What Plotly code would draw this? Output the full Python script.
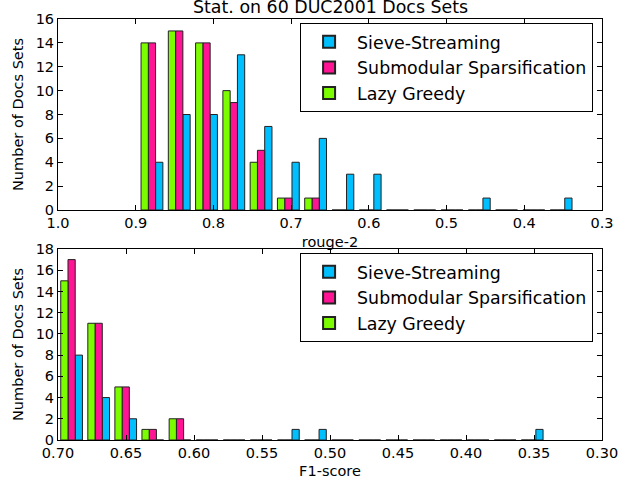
import plotly.graph_objects as go

# ---------------- data ----------------
series_names = ["Sieve-Streaming", "Submodular Sparsification", "Lazy Greedy"]
series_colors = ["#00BFFF", "#FF1493", "#7CFC00"]

# Top panel (rouge-2): 16 bins, centers in increasing order
rouge_bin_width = 0.0351
rouge_bin_centers = [0.3526, 0.3877, 0.4228, 0.4579, 0.4930, 0.5281, 0.5632, 0.5983,
                     0.6334, 0.6685, 0.7036, 0.7387, 0.7738, 0.8089, 0.8440, 0.8791]
rouge_sieve = [1, 0, 0, 1, 0, 0, 0, 3, 3, 6, 4, 7, 13, 8, 8, 4]
rouge_sparse = [0, 0, 0, 0, 0, 0, 0, 0, 0, 1, 1, 5, 9, 14, 15, 14]
rouge_lazy = [0, 0, 0, 0, 0, 0, 0, 0, 0, 1, 1, 4, 10, 14, 15, 14]

# Bottom panel (F1-score): 18 bins, centers in increasing order
f1_bin_width = 0.01993
f1_bin_centers = [0.3513, 0.3712, 0.3911, 0.4110, 0.4310, 0.4509, 0.4708, 0.4908,
                  0.5107, 0.5306, 0.5506, 0.5705, 0.5904, 0.6103, 0.6303, 0.6502,
                  0.6701, 0.6900]
f1_sieve = [1, 0, 0, 0, 0, 0, 0, 0, 1, 1, 0, 0, 0, 0, 0, 2, 4, 8]
f1_sparse = [0, 0, 0, 0, 0, 0, 0, 0, 0, 0, 0, 0, 0, 2, 1, 5, 11, 17]
f1_lazy = [0, 0, 0, 0, 0, 0, 0, 0, 0, 0, 0, 0, 0, 2, 1, 5, 11, 15]

top_xticks = [1.0, 0.9, 0.8, 0.7, 0.6, 0.5, 0.4, 0.3]
bottom_xticks = [0.70, 0.65, 0.60, 0.55, 0.50, 0.45, 0.40, 0.35, 0.30]

title_text = "Stat. on 60 DUC2001 Docs Sets"
ytitle = "Number of Docs Sets"

# ---------------- figure ----------------
FONT = "DejaVu Sans, Verdana, sans-serif"
BASE = 14.5
LARGE = 17.4
fig = go.Figure()

def add_panel(centers, width, series, xaxis, yaxis, legend):
    bw = 0.8 * width / 3
    for i, (vals, name, col) in enumerate(zip(series, series_names, series_colors)):
        fig.add_trace(go.Bar(
            x=centers, y=vals, name=name,
            width=bw, offset=-0.4 * width + i * bw,
            marker=dict(color=col, line=dict(color="#222222", width=1)),
            xaxis=xaxis, yaxis=yaxis, legend=legend,
        ))

add_panel(rouge_bin_centers, rouge_bin_width, [rouge_sieve, rouge_sparse, rouge_lazy], "x", "y", "legend")
add_panel(f1_bin_centers, f1_bin_width, [f1_sieve, f1_sparse, f1_lazy], "x2", "y2", "legend2")

axis_common = dict(
    showline=True, linecolor="black", linewidth=1, mirror="allticks",
    ticks="inside", ticklen=5, tickcolor="black", showgrid=False, zeroline=False,
    automargin=False,
    tickfont=dict(family=FONT, size=BASE, color="black"),
)

legend_common = dict(
    bgcolor="white", bordercolor="black", borderwidth=1,
    font=dict(family=FONT, size=LARGE, color="black"),
    xanchor="left", yanchor="top", traceorder="normal",
    itemsizing="constant", itemwidth=46,
)

fig.update_layout(
    width=644, height=484,
    margin=dict(l=58, r=42, t=19, b=44, autoexpand=False),
    plot_bgcolor="white", paper_bgcolor="white",
    font=dict(family=FONT, size=BASE, color="black"),
    barmode="overlay",
    xaxis=dict(axis_common, anchor="y", domain=[0, 1], range=[1.0, 0.3],
               tickvals=top_xticks, tickformat=".1f",
               title=dict(text="rouge-2", standoff=6, font=dict(family=FONT, size=BASE))),
    yaxis=dict(axis_common, anchor="x", domain=[0.5463, 1], range=[0, 16], dtick=2,
               title=dict(text=ytitle, standoff=8, font=dict(family=FONT, size=BASE))),
    xaxis2=dict(axis_common, anchor="y2", domain=[0, 1], range=[0.70, 0.30],
                tickvals=bottom_xticks, tickformat=".2f",
                title=dict(text="F1-score", standoff=5, font=dict(family=FONT, size=BASE))),
    yaxis2=dict(axis_common, anchor="x2", domain=[0, 0.4537], range=[0, 18], dtick=2,
                title=dict(text=ytitle, standoff=8, font=dict(family=FONT, size=BASE))),
    legend=dict(legend_common, x=0.445, y=0.9905, yref="paper"),
    legend2=dict(legend_common, x=0.445, y=0.4442, yref="paper"),
    annotations=[dict(text=title_text, x=0.5, xref="paper", y=1, yref="paper",
                      xanchor="center", yanchor="bottom", yshift=0, showarrow=False,
                      font=dict(family=FONT, size=LARGE, color="black"))],
)

fig.write_html("out.html", config={"displayModeBar": False},
               post_script="document.body.style.margin='0';")
